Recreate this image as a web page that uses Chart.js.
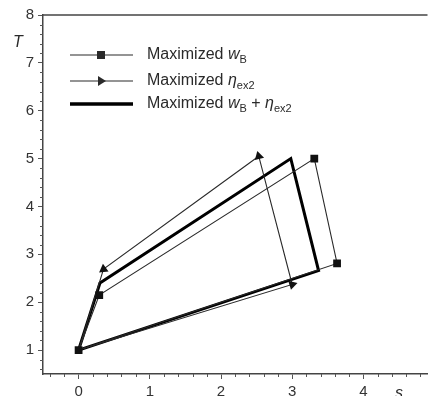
<!DOCTYPE html>
<html>
<head>
<meta charset="utf-8">
<script src="https://cdn.jsdelivr.net/npm/chart.js@4.4.1/dist/chart.umd.min.js"></script>
<style>
html,body{margin:0;padding:0;background:#fff;overflow:hidden;}
#wrap{width:433px;height:396px;position:relative;}
</style>
</head>
<body>
<div id="wrap"><canvas id="c" width="433" height="396"></canvas></div>
<script>
// Data (entropy s vs temperature T)
const wB_s   = [0, 0.29, 3.31, 3.63, 0];
const wB_T   = [1, 2.15, 5.0, 2.81, 1];
const eta_s  = [0, 3.0, 2.53, 0.35, 0];
const eta_T  = [1, 2.37, 5.05, 2.69, 1];
const both_s = [0, 0.3, 2.98, 3.37, 0];
const both_T = [1, 2.4, 5.0, 2.66, 1];
const xTickLabels = ['0', '1', '2', '3', '4'];
const yTickLabels = ['1', '2', '3', '4', '5', '6', '7', '8'];
const seriesNames = ['Maximized wB', 'Maximized ηex2', 'Maximized wB + ηex2'];

const toPts = (xs, ys) => xs.map((x, i) => ({x: x, y: ys[i]}));
const FONT = '"Liberation Sans", Arial, sans-serif';
const INK = '#2a2a2a';

const extras = {
  id: 'extras',
  afterDraw(chart) {
    const ctx = chart.ctx, a = chart.chartArea;
    const xs = chart.scales.x, ys = chart.scales.y;
    ctx.save();
    // top frame line
    ctx.strokeStyle = '#444'; ctx.lineWidth = 1.5;
    ctx.beginPath(); ctx.moveTo(a.left, a.top); ctx.lineTo(a.right, a.top); ctx.stroke();
    // minor ticks
    ctx.lineWidth = 1; ctx.strokeStyle = '#555';
    ctx.beginPath();
    for (let i = -2; i <= 24; i++) {
      if (i % 5 === 0) continue;
      const px = Math.round(xs.getPixelForValue(i / 5)) + 0.5;
      if (px < a.left || px > a.right) continue;
      ctx.moveTo(px, a.bottom); ctx.lineTo(px, a.bottom + 3);
    }
    for (let i = 3; i <= 39; i++) {
      if (i % 5 === 0) continue;
      const py = Math.round(ys.getPixelForValue(i / 5)) + 0.5;
      ctx.moveTo(a.left, py); ctx.lineTo(a.left - 3, py);
    }
    ctx.stroke();
    // axis titles
    ctx.fillStyle = INK;
    ctx.font = 'italic 16px ' + FONT;
    ctx.textAlign = 'center'; ctx.textBaseline = 'middle';
    ctx.fillText('T', 18, 43);
    ctx.fillText('s', 399, 394);

    // legend
    const lx0 = 70, lx1 = 133, mx = 101, tx = 147;
    const rows = [55, 81, 104];
    const drawRich = (parts, x, y) => {
      ctx.textAlign = 'left'; ctx.textBaseline = 'middle';
      for (const p of parts) {
        const size = p.sub ? 11 : 16;
        ctx.font = (p.it ? 'italic ' : '') + size + 'px ' + FONT;
        ctx.fillText(p.t, x, y + (p.sub ? 5 : 0));
        x += ctx.measureText(p.t).width;
      }
    };
    ctx.strokeStyle = INK; ctx.fillStyle = INK;
    // row 1
    ctx.lineWidth = 1.2;
    ctx.beginPath(); ctx.moveTo(lx0, rows[0]); ctx.lineTo(lx1, rows[0]); ctx.stroke();
    ctx.fillRect(mx - 4, rows[0] - 4, 8, 8);
    drawRich([{t: 'Maximized '}, {t: 'w', it: true}, {t: 'B', sub: true}], tx, rows[0]);
    // row 2
    ctx.beginPath(); ctx.moveTo(lx0, rows[1]); ctx.lineTo(lx1, rows[1]); ctx.stroke();
    ctx.beginPath(); ctx.moveTo(mx + 5, rows[1]); ctx.lineTo(mx - 3, rows[1] - 5); ctx.lineTo(mx - 3, rows[1] + 5); ctx.closePath(); ctx.fill();
    drawRich([{t: 'Maximized '}, {t: 'η', it: true}, {t: 'ex2', sub: true}], tx, rows[1]);
    // row 3
    ctx.lineWidth = 3.5; ctx.strokeStyle = '#000';
    ctx.beginPath(); ctx.moveTo(lx0, rows[2]); ctx.lineTo(lx1, rows[2]); ctx.stroke();
    drawRich([{t: 'Maximized '}, {t: 'w', it: true}, {t: 'B', sub: true}, {t: ' + '}, {t: 'η', it: true}, {t: 'ex2', sub: true}], tx, rows[2]);
    ctx.restore();
  }
};

new Chart(document.getElementById('c'), {
  type: 'scatter',
  data: {
    datasets: [
      {
        label: seriesNames[0],
        data: toPts(wB_s, wB_T),
        showLine: true,
        borderColor: INK, borderWidth: 1.1,
        backgroundColor: '#111',
        pointStyle: 'rect',
        pointRadius: [5.5, 5.5, 5.5, 5.5, 0],
        pointBorderWidth: 0,
        pointBackgroundColor: '#111'
      },
      {
        label: seriesNames[1],
        data: toPts(eta_s, eta_T),
        showLine: true,
        borderColor: INK, borderWidth: 1.1,
        backgroundColor: '#111',
        pointStyle: 'triangle',
        pointRadius: [0, 5.5, 5.5, 5.5, 0],
        pointRotation: [0, 73, -15, -126, 0],
        pointBorderWidth: 0,
        pointBackgroundColor: '#111'
      },
      {
        label: seriesNames[2],
        data: toPts(both_s, both_T),
        showLine: true,
        borderColor: '#000', borderWidth: 3,
        pointRadius: 0,
        borderJoinStyle: 'miter'
      }
    ]
  },
  options: {
    responsive: false,
    animation: false,
    events: [],
    layout: {padding: {top: 15, right: 0, left: 0, bottom: 0}},
    plugins: {legend: {display: false}, tooltip: {enabled: false}},
    scales: {
      x: {
        type: 'linear', min: -0.5, max: 4.9,
        afterFit: s => { s.height = 22; },
        afterBuildTicks: s => { s.ticks = xTickLabels.map(v => ({value: Number(v)})); },
        ticks: {includeBounds: false, stepSize: 1, color: '#333', font: {family: FONT, size: 15}, padding: 4,
                callback: (v) => xTickLabels.includes(String(v)) ? String(v) : ''},
        grid: {drawOnChartArea: false, tickLength: 5, color: '#555', tickWidth: 1},
        border: {display: true, color: '#444', width: 1.5}
      },
      y: {
        type: 'linear', min: 0.5, max: 8,
        afterFit: s => { s.width = 43; },
        afterBuildTicks: s => { s.ticks = yTickLabels.map(v => ({value: Number(v)})); },
        ticks: {includeBounds: false, stepSize: 1, color: '#333', font: {family: FONT, size: 15}, padding: 4,
                callback: (v) => yTickLabels.includes(String(v)) ? String(v) : ''},
        grid: {drawOnChartArea: false, tickLength: 5, color: '#555', tickWidth: 1},
        border: {display: true, color: '#444', width: 1.5}
      }
    }
  },
  plugins: [extras]
});
</script>
</body>
</html>
